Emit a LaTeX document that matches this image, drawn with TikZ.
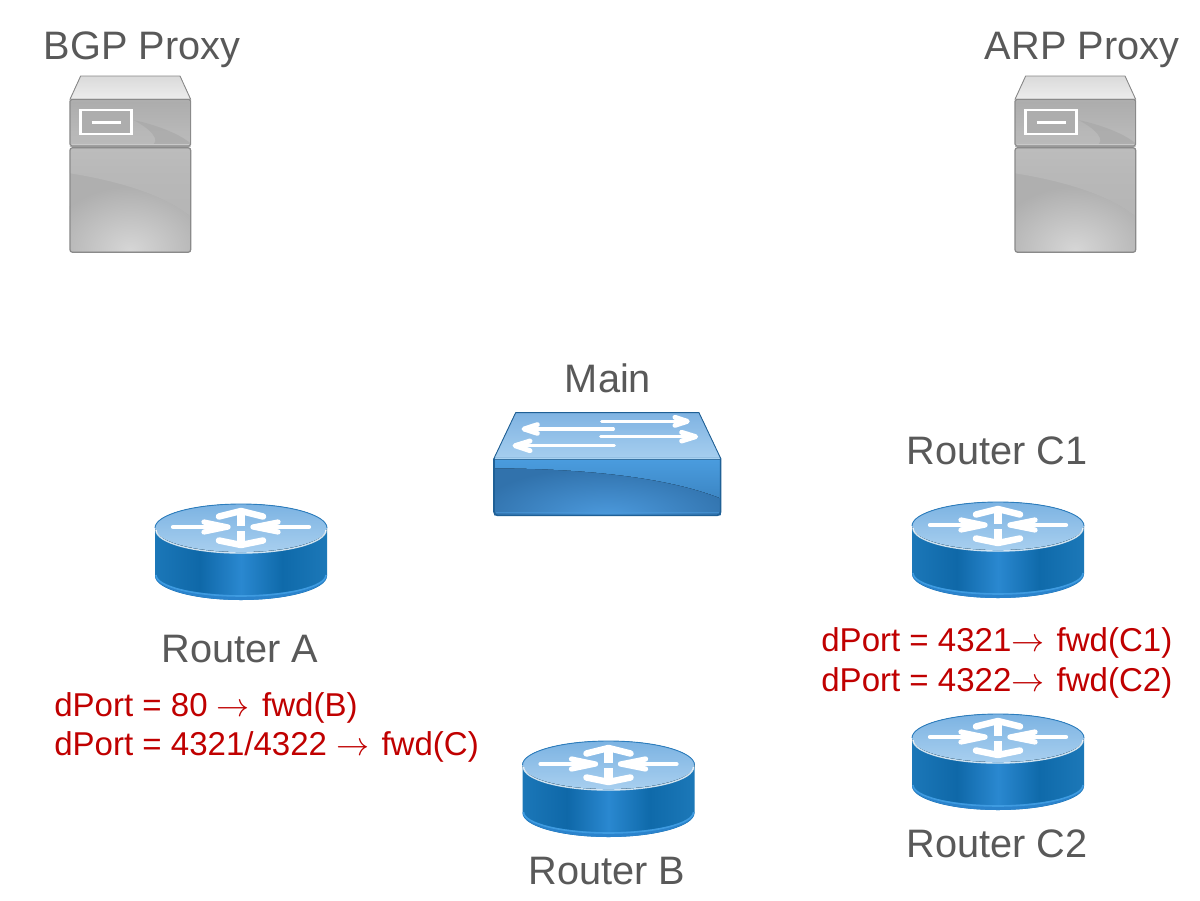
\documentclass[tikz,border=0pt]{standalone}
\usepackage{fontspec}
\setmainfont{Liberation Sans}
\font\myarr=cmsy10 at 18.8pt
\newcommand{\rarr}{{\myarr\char"21}}
\definecolor{lab}{HTML}{595959}
\definecolor{redlab}{HTML}{C00000}
\newcommand{\dc}[1]{\definecolor{#1}{HTML}{#1}}
\dc{1B77B8}\dc{0F68A8}\dc{2A88D0}\dc{0F6AAA}\dc{1C78B8}\dc{3E9BE0}\dc{7CB3E2}\dc{A8CFEF}\dc{2B7DBE}\dc{2B83CC}
\dc{DADADA}\dc{EDEDED}\dc{8A8A8A}\dc{C8C8C8}\dc{B0B0B0}\dc{C9C9C9}\dc{ADADAD}\dc{AFAFAF}\dc{D6D6D6}\dc{B8B8B8}\dc{BEBEBE}\dc{CDCDCD}\dc{B3B3B3}\dc{A6A6A6}
\dc{7FB3E2}\dc{A6CEEF}\dc{1F6096}\dc{3172AC}\dc{4C9ADD}\dc{4A9CDE}\dc{3C86C4}\dc{A9D2F1}\dc{4A9ADB}
\pgfdeclarehorizontalshading{routerside}{100bp}{
  color(0bp)=(1B77B8); color(25bp)=(1B77B8); color(38bp)=(0F68A8); color(50bp)=(2A88D0); color(62bp)=(0F6AAA); color(75bp)=(1C78B8); color(100bp)=(1C78B8)}
\pgfdeclareverticalshading{uppanel}{100bp}{
  color(0bp)=(BEBEBE); color(40bp)=(B8B8B8); color(72bp)=(ADADAD); color(85bp)=(B3B3B3); color(100bp)=(C8C8C8)}
\pgfdeclareverticalshading{lowgloss}{100bp}{
  color(0bp)=(B3B3B3); color(55bp)=(B8B8B8); color(85bp)=(BEBEBE); color(100bp)=(CDCDCD)}
\tikzset{
  lab/.style={text=lab,font=\fontsize{22.6pt}{26pt}\selectfont,anchor=base,inner sep=0pt},
  rule/.style={text=redlab,font=\fontsize{18.8pt}{22pt}\selectfont,anchor=base west,inner sep=0pt},
  wline/.style={draw=white,line cap=round,line join=round},
  pics/router/.style={code={
    \shade[shading=routerside,draw=none] (-86,0) -- (-86,-48) arc[start angle=180,end angle=360,x radius=86,y radius=24] -- (86,0) arc[start angle=0,end angle=180,x radius=86,y radius=24] -- cycle;
    \fill[color=2B83CC] (-86,-47) arc[start angle=180,end angle=360,x radius=86,y radius=25] arc[start angle=0,end angle=-180,x radius=86,y radius=20] -- cycle;
    \draw[color=3E9BE0,line width=.9pt] (-85,-47) arc[start angle=180,end angle=360,x radius=85,y radius=21];
    \fill[top color=7CB3E2,bottom color=A8CFEF] (0,0) ellipse[x radius=86,y radius=24];
    \draw[white,opacity=.8,line width=.8pt] (-85,-2) arc[start angle=180,end angle=360,x radius=85,y radius=23];
    \draw[color=2B7DBE,line width=.5pt] (-86,0) arc[start angle=180,end angle=0,x radius=86,y radius=24];
    % vertical arrows
    \draw[wline,line width=4.6pt,line cap=butt] (0,2) -- (0,15);
    \draw[wline,line width=3.7pt] (-22,11.5) -- (0,17) -- (22,11.5);
    \draw[wline,line width=4.6pt,line cap=butt] (0,-3) -- (0,-14);
    \draw[wline,line width=3.7pt] (-22,-12.5) -- (0,-17) -- (22,-12.5);
    % horizontal arrows
    \draw[wline,line width=2.4pt] (-68,1) -- (-15,1);
    \draw[wline,line width=3pt] (-37,6) -- (-13,1) -- (-37,-4);
    \draw[wline,line width=2.4pt] (68,1) -- (14,1);
    \draw[wline,line width=3pt] (37,6) -- (12,1) -- (37,-4);
  }},
  pics/server/.style={code={
    \begin{scope}[x=0.02cm/3,y=-0.02cm/3]
    \fill[top color=DADADA,bottom color=EDEDED,draw=8A8A8A,line width=.5pt,line join=round] (92,48) -- (390,48) -- (422,118) -- (60,118) -- cycle;
    \shade[shading=uppanel] (60,118) rectangle (422,258);
    \fill[color=A6A6A6,opacity=.6] (250,180) .. controls (320,195) and (385,220) .. (422,250) -- (422,258) -- (300,258) .. controls (340,245) and (300,205) .. (250,180) -- cycle;
    \fill[color=C9C9C9] (60,252) rectangle (422,258);
    \draw[color=8A8A8A,line width=.6pt,rounded corners=1pt] (60,118) rectangle (422,258);
    \draw[white,line width=1.7pt,fill=ADADAD] (92,150) rectangle (245,222);
    \draw[white,line width=1.7pt] (125,187) -- (213,187);
    \fill[color=AFAFAF] (60,265) rectangle (422,575);
    \begin{scope}
      \clip (60,340) .. controls (220,365) and (350,410) .. (422,470) -- (422,575) -- (60,575) -- cycle;
      \shade[inner color=D6D6D6,outer color=AFAFAF] (240,570) ellipse[x radius=250,y radius=190];
    \end{scope}
    \shade[shading=lowgloss] (60,265) -- (422,265) -- (422,470) .. controls (350,410) and (220,365) .. (60,340) -- cycle;
    \draw[color=8A8A8A,line width=.7pt,rounded corners=1.5pt] (60,263) rectangle (422,577);
    \end{scope}
  }}
}
\begin{document}
\begin{tikzpicture}[x=0.02cm,y=0.02cm]
\useasboundingbox (0,-900) rectangle (1200,0);
\fill[white] (0,-900) rectangle (1200,0);

\pic (bgpicon) at (50,-60) {server};
\pic (arpicon) at (995,-60) {server};

% switch
\begin{scope}[shift={(480,-400)},x=0.02cm/3,y=-0.02cm/3]
  \fill[top color=7FB3E2,bottom color=A6CEEF,draw=1F6096,line width=.5pt,line join=round] (107,38) -- (657,38) -- (722,175) -- (42,175) -- cycle;
  \fill[color=3172AC] (42,175) rectangle (722,346);
  \begin{scope}
    \clip (42,205) .. controls (300,205) and (560,230) .. (722,295) -- (722,346) -- (42,346) -- cycle;
    \shade[inner color=4C9ADD,outer color=3172AC] (380,350) ellipse[x radius=400,y radius=150];
  \end{scope}
  \fill[top color=4A9CDE,bottom color=3C86C4] (42,178) -- (722,178) -- (722,295) .. controls (560,230) and (300,205) .. (42,205) -- cycle;
  \draw[color=A9D2F1,line width=.6pt] (44,176) -- (720,176);
  \draw[color=4A9ADB,line width=.5pt,opacity=.6] (48,336) -- (716,336);
  \draw[color=1F6096,line width=.9pt,rounded corners=2pt] (42,175) -- (42,346) -- (722,346) -- (722,175);
  \draw[wline,line width=1.9pt] (365,64) -- (620,64);
  \draw[wline,line width=2.8pt] (585,52) -- (622,64) -- (585,76);
  \draw[wline,line width=1.9pt] (400,87) -- (135,87);
  \draw[wline,line width=2.8pt] (172,74) -- (132,87) -- (172,100);
  \draw[wline,line width=1.9pt] (362,110) -- (645,110);
  \draw[wline,line width=2.8pt] (605,97) -- (647,110) -- (605,123);
  \draw[wline,line width=1.9pt] (403,137) -- (108,137);
  \draw[wline,line width=2.8pt] (150,123) -- (105,137) -- (150,152);
\end{scope}

\pic (ricona) at (241,-528) {router};
\pic (riconb) at (608.5,-765) {router};
\pic (riconc) at (998,-526) {router};
\pic (ricond) at (998,-738) {router};

\node[lab] (bgp) at (142,-59.5) {BGP Proxy};
\node[lab] (arp) at (1082,-59.5) {ARP Proxy};
\node[lab] (main) at (608,-392) {Main};
\node[lab] (rc1) at (997,-464) {Router C1};
\node[lab] (ra) at (240,-662) {Router A};
\node[lab] (rb) at (607,-884) {Router B};
\node[lab] (rc2) at (997,-857) {Router C2};

\node[rule] (ra1) at (54,-716) {dPort = 80 \rarr{} fwd(B)};
\node[rule] (ra2) at (54,-755) {dPort = 4321/4322 \rarr{} fwd(C)};
\node[rule] (rc1a) at (821,-651) {dPort = 4321\rarr{} fwd(C1)};
\node[rule] (rc2a) at (821,-691) {dPort = 4322\rarr{} fwd(C2)};
\end{tikzpicture}
\end{document}
